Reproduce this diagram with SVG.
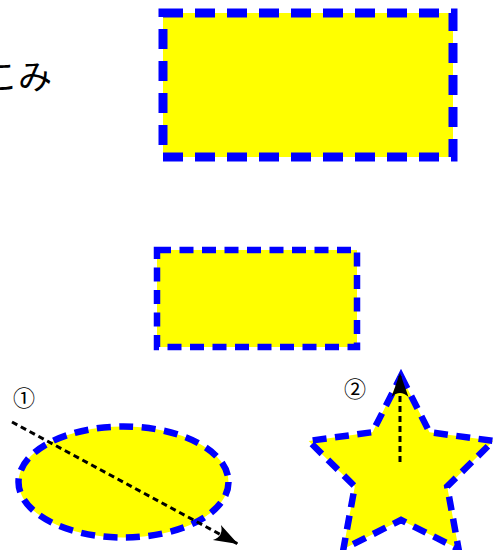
<svg xmlns="http://www.w3.org/2000/svg" width="493" height="550" viewBox="0 0 493 550">
  <style>
    .shape { fill: #ffff00; stroke: #0000ff; }
    .big { stroke-width: 9; stroke-dasharray: 20 12; }
    .small { stroke-width: 6.5; stroke-dasharray: 14 8.5; }
    .conn { fill: none; stroke: #000; stroke-width: 3; stroke-dasharray: 6 4; }
    .lbl { font-family: "Noto Sans CJK JP", "DejaVu Sans", sans-serif; fill: #000; }
  </style>
  <defs>
    <marker id="ah" markerUnits="userSpaceOnUse" markerWidth="30" markerHeight="20" viewBox="-26 -10 28 20" refX="0" refY="0" orient="auto">
      <path d="M0,0 L-24,-8.5 Q-16,0 -24,8.5 Z" fill="#000"/>
    </marker>
  </defs>
  <rect width="493" height="550" fill="#fff"/>
  <text class="lbl" x="52" y="89" font-size="34" text-anchor="end">こみ</text>
  <g id="bigRect">
    <rect class="shape big" x="163" y="13" width="290" height="144"/>
  </g>
  <g id="smallRect">
    <rect class="shape small" x="157" y="250" width="200" height="97"/>
  </g>
  <g id="ellipse">
    <ellipse class="shape small" cx="123.5" cy="482" rx="105" ry="55.5"/>
    <text class="lbl" x="24" y="406" font-size="22" text-anchor="middle">①</text>
  </g>
  <g id="star">
    <path class="shape small" d="M401,376 L429.5,432.2 L493.3,440.9 L447.2,486.4 L458.6,549.1 L401,520 L343.4,549.1 L354.8,486.4 L308.7,440.9 L372.5,432.2 Z"/>
    <text class="lbl" x="355" y="397" font-size="22" text-anchor="middle">②</text>
  </g>
  <g id="connectors">
    <path class="conn" d="M12,422 L238,544" marker-end="url(#ah)"/>
    <path class="conn" d="M400,462 L400,373" marker-end="url(#ah)"/>
  </g>
</svg>
